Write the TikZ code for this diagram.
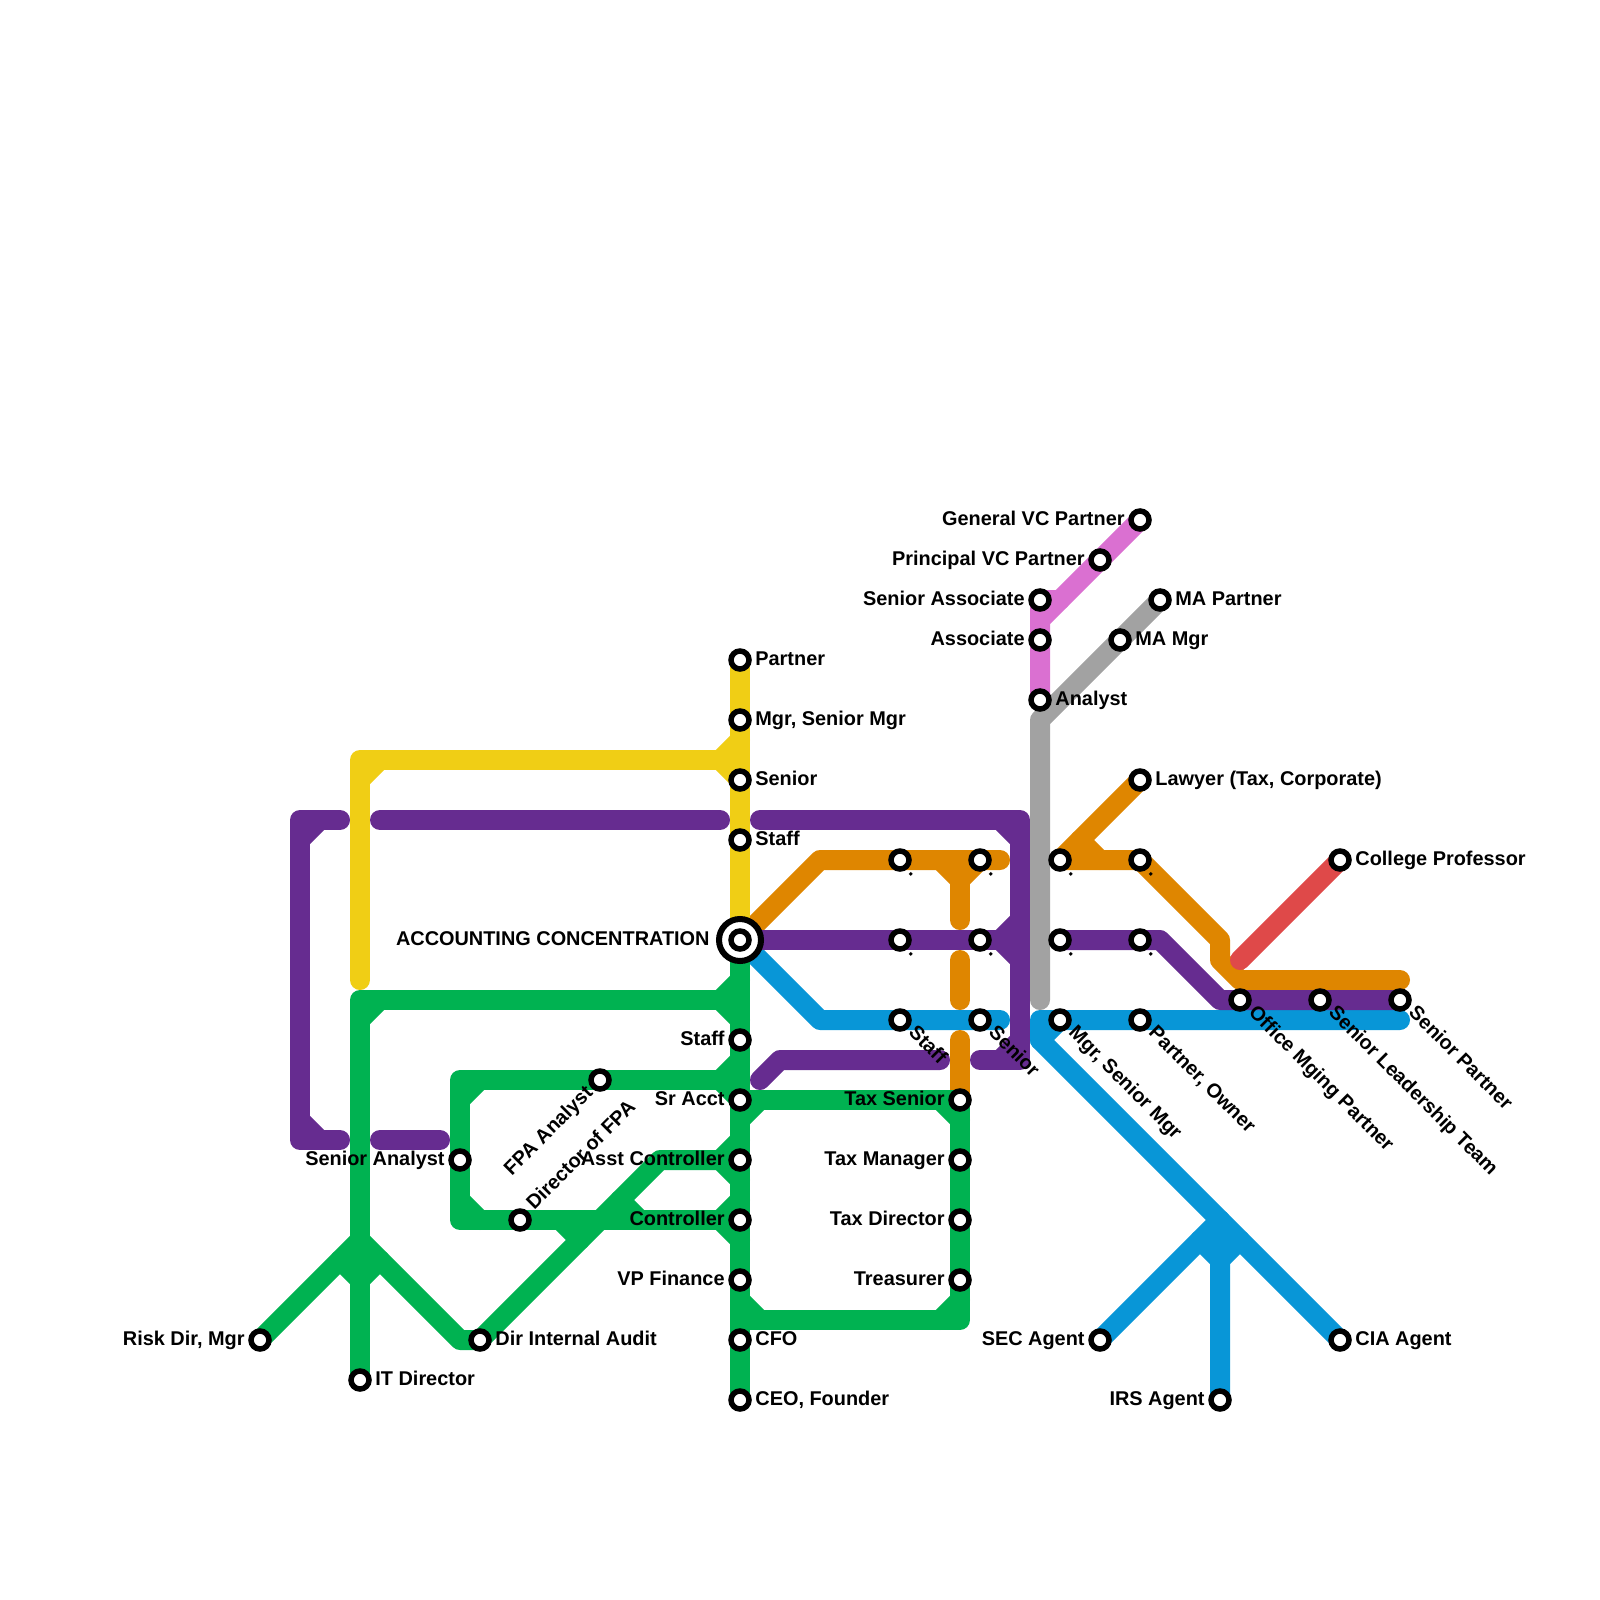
\documentclass[tikz,border=0pt]{standalone}
\usepackage{fontspec}
\setmainfont{Liberation Sans}[BoldFont={Liberation Sans Bold}]
\definecolor{myellow}{HTML}{F0CE15}
\definecolor{mpurple}{HTML}{662C90}
\definecolor{mgreen}{HTML}{00B251}
\definecolor{mblue}{HTML}{0896D7}
\definecolor{morange}{HTML}{DF8600}
\definecolor{mgray}{HTML}{A2A2A2}
\definecolor{mpink}{HTML}{DA70D1}
\definecolor{mred}{HTML}{DF4949}
\tikzset{
  metro/.style={line width=10pt,line cap=round,line join=round},
  stn/.style={circle,draw=black,fill=white,line width=2.75pt,minimum size=9pt,inner sep=0pt},
  hubring/.style={circle,draw=black,fill=white,line width=3pt,minimum size=21pt,inner sep=0pt},
  lab/.style={inner sep=0pt,font=\bfseries\fontsize{9.95pt}{12pt}\selectfont,text=black}
}
\newcommand\labR[2]{\node[lab,anchor=base west] (t#1) at ([shift={(15,5)}]#1) {#2};}
\newcommand\labL[2]{\node[lab,anchor=base east] (t#1) at ([shift={(-15,5)}]#1) {#2};}
\newcommand\labD[2]{\node[lab,anchor=base west,rotate=-45] (t#1) at ([shift={(7.5,13.5)}]#1) {#2};}
\newcommand\st[1]{\node[stn] (n#1) at (#1) {};}
\begin{document}
\begin{tikzpicture}[x=0.5pt,y=-0.5pt]
\useasboundingbox (0,0) rectangle (1600,1600);
% stations
\coordinate (hub) at (740,940);
\coordinate (yPartner) at (740,660);
\coordinate (yMgr) at (740,720);
\coordinate (ySenior) at (740,780);
\coordinate (yStaff) at (740,840);
\coordinate (gStaff) at (740,1040);
\coordinate (gSr) at (740,1100);
\coordinate (gAsst) at (740,1160);
\coordinate (gCtrl) at (740,1220);
\coordinate (gVP) at (740,1280);
\coordinate (gCFO) at (740,1340);
\coordinate (gCEO) at (740,1400);
\coordinate (tSen) at (960,1100);
\coordinate (tMgr) at (960,1160);
\coordinate (tDir) at (960,1220);
\coordinate (tTre) at (960,1280);
\coordinate (fSA) at (460,1160);
\coordinate (fDir) at (520,1220);
\coordinate (fAn) at (600,1080);
\coordinate (fAud) at (480,1340);
\coordinate (fRisk) at (260,1340);
\coordinate (fIT) at (360,1380);
\coordinate (o1) at (900,860);
\coordinate (o2) at (980,860);
\coordinate (p1) at (900,940);
\coordinate (p2) at (980,940);
\coordinate (b1) at (900,1020);
\coordinate (b2) at (980,1020);
\coordinate (o3) at (1060,860);
\coordinate (o4) at (1140,860);
\coordinate (p3) at (1060,940);
\coordinate (p4) at (1140,940);
\coordinate (b3) at (1060,1020);
\coordinate (b4) at (1140,1020);
\coordinate (law) at (1140,780);
\coordinate (col) at (1340,860);
\coordinate (off) at (1240,1000);
\coordinate (slt) at (1320,1000);
\coordinate (spa) at (1400,1000);
\coordinate (vcG) at (1140,520);
\coordinate (vcP) at (1100,560);
\coordinate (vcS) at (1040,600);
\coordinate (vcA) at (1040,640);
\coordinate (ana) at (1040,700);
\coordinate (maP) at (1160,600);
\coordinate (maM) at (1120,640);
\coordinate (sec) at (1100,1340);
\coordinate (irs) at (1220,1400);
\coordinate (cia) at (1340,1340);
% blue
\begin{scope}[metro,draw=mblue]
\draw (hub) -- (820,1020) -- (b1) -- (b2) -- (1000,1020);
\draw (1400,1020) -- (b4) -- (b3) -- (1040,1020) -- (1040,1040) -- (cia);
\draw (1040,1040) -- (b3);
\draw (sec) -- (1220,1220) -- (irs);
\draw (1200,1240) -- (1220,1260) -- (1240,1240);
\end{scope}
% orange
\begin{scope}[metro,draw=morange]
\draw (hub) -- (820,860) -- (o1) -- (o2) -- (1000,860);
\draw (940,860) -- (960,880) -- (980,860);
\draw (960,880) -- (960,920);
\draw (960,960) -- (960,1000);
\draw (960,1040) -- (tSen);
\draw (law) -- (o3) -- (o4) -- (1220,940) -- (1220,960) -- (1240,980) -- (1400,980);
\draw (1080,840) -- (1100,860);
\end{scope}
% purple
\begin{scope}[metro,draw=mpurple]
\draw (340,820) -- (300,820) -- (300,1140) -- (340,1140);
\draw (300,840) -- (320,820);
\draw (300,1120) -- (320,1140);
\draw (380,820) -- (720,820);
\draw (380,1140) -- (440,1140);
\draw (760,820) -- (1020,820) -- (1020,1060) -- (980,1060);
\draw (1000,820) -- (1020,840);
\draw (1000,1060) -- (1020,1040);
\draw (hub) -- (p1) -- (p2) -- (1000,940);
\draw (1020,920) -- (1000,940) -- (1020,960);
\draw (760,1080) -- (780,1060) -- (940,1060);
\draw (p3) -- (p4) -- (1160,940) -- (1220,1000) -- (spa);
\end{scope}
% green
\begin{scope}[metro,draw=mgreen]
\draw (hub) -- (gCEO);
\draw (740,980) -- (720,1000) -- (740,1020);
\draw (720,1000) -- (360,1000) -- (fIT);
\draw (360,1020) -- (380,1000);
\draw (fRisk) -- (360,1240) -- (460,1340) -- (fAud) -- (660,1160) -- (720,1160) -- (740,1140);
\draw (720,1160) -- (740,1180);
\draw (340,1260) -- (360,1280) -- (380,1260);
\draw (740,1060) -- (720,1080) -- (gSr);
\draw (720,1080) -- (460,1080) -- (460,1220) -- (720,1220);
\draw (460,1100) -- (480,1080);
\draw (460,1200) -- (480,1220);
\draw (740,1200) -- (720,1220) -- (740,1240);
\draw (560,1220) -- (580,1240);
\draw (620,1200) -- (640,1220);
\draw (gSr) -- (tSen) -- (960,1320) -- (740,1320);
\draw (740,1120) -- (760,1100);
\draw (940,1100) -- (960,1120);
\draw (740,1300) -- (760,1320);
\draw (940,1320) -- (960,1300);
\end{scope}
% yellow
\begin{scope}[metro,draw=myellow]
\draw (yPartner) -- (hub);
\draw (740,740) -- (720,760) -- (ySenior);
\draw (720,760) -- (360,760) -- (360,980);
\draw (360,780) -- (380,760);
\end{scope}
% gray
\draw[metro,draw=mgray] (maP) -- (1040,720) -- (1040,1000);
% pink
\draw[metro,draw=mpink] (vcG) -- (1040,620) -- (ana);
\draw[metro,draw=mpink] (vcS) -- (1040,620);
\draw[metro,draw=mpink] (vcS) -- (1060,600);
% red
\draw[metro,draw=mred] (1240,960) -- (col);
% station markers
\node[hubring] (nhubring) at (hub) {};
\st{hub}\st{yPartner}\st{yMgr}\st{ySenior}\st{yStaff}\st{gStaff}\st{gSr}\st{gAsst}\st{gCtrl}\st{gVP}\st{gCFO}\st{gCEO}
\st{tSen}\st{tMgr}\st{tDir}\st{tTre}\st{fSA}\st{fDir}\st{fAn}\st{fAud}\st{fRisk}\st{fIT}
\st{o1}\st{o2}\st{p1}\st{p2}\st{b1}\st{b2}\st{o3}\st{o4}\st{p3}\st{p4}\st{b3}\st{b4}
\st{law}\st{col}\st{off}\st{slt}\st{spa}\st{vcG}\st{vcP}\st{vcS}\st{vcA}\st{ana}\st{maP}\st{maM}\st{sec}\st{irs}\st{cia}
% labels
\node[lab,anchor=base east] (thub) at ([shift={(-30,5)}]hub) {ACCOUNTING CONCENTRATION};
\labR{yPartner}{Partner}
\labR{yMgr}{Mgr, Senior Mgr}
\labR{ySenior}{Senior}
\labR{yStaff}{Staff}
\labL{gStaff}{Staff}
\labL{gSr}{Sr Acct}
\labL{gAsst}{Asst Controller}
\labL{gCtrl}{Controller}
\labL{gVP}{VP Finance}
\labR{gCFO}{CFO}
\labR{gCEO}{CEO, Founder}
\labL{tSen}{Tax Senior}
\labL{tMgr}{Tax Manager}
\labL{tDir}{Tax Director}
\labL{tTre}{Treasurer}
\labL{fSA}{Senior Analyst}
\labR{fAud}{Dir Internal Audit}
\labL{fRisk}{Risk Dir, Mgr}
\labR{fIT}{IT Director}
\node[lab,anchor=base west,rotate=45] (tfDir) at ([shift={(14,-9)}]fDir) {Director of FPA};
\node[lab,anchor=base east,rotate=45] (tfAn) at ([shift={(-6,14)}]fAn) {FPA Analyst};
\labD{o1}{.}\labD{o2}{.}\labD{p1}{.}\labD{p2}{.}\labD{o3}{.}\labD{o4}{.}\labD{p3}{.}\labD{p4}{.}
\labD{b1}{Staff}
\labD{b2}{Senior}
\labD{b3}{Mgr, Senior Mgr}
\labD{b4}{Partner, Owner}
\labD{off}{Office Mging Partner}
\labD{slt}{Senior Leadership Team}
\labD{spa}{Senior Partner}
\labR{law}{Lawyer (Tax, Corporate)}
\labR{col}{College Professor}
\labL{vcG}{General VC Partner}
\labL{vcP}{Principal VC Partner}
\labL{vcS}{Senior Associate}
\labL{vcA}{Associate}
\labR{ana}{Analyst}
\labR{maP}{MA Partner}
\labR{maM}{MA Mgr}
\labL{sec}{SEC Agent}
\labL{irs}{IRS Agent}
\labR{cia}{CIA Agent}
\end{tikzpicture}
\end{document}
